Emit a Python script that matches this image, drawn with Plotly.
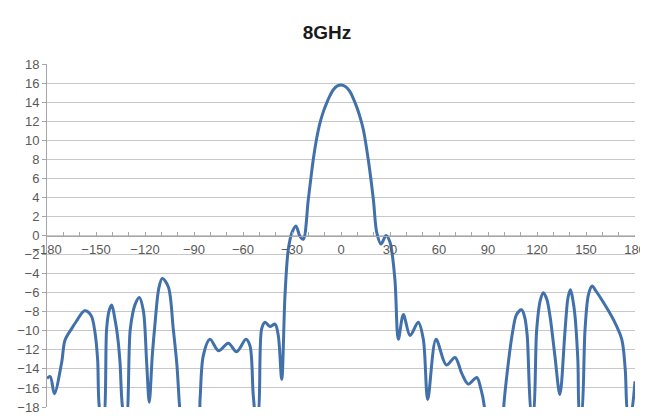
import plotly.graph_objects as go

angle_deg = [-180, -178, -175.5, -171, -169, -165, -162, -157, -153, -150.5, -149, -147.5,
             -145.5, -143.5, -142, -140.4, -138.4, -136.5, -135.3, -133.3,
             -131.5, -129, -126, -123.5, -121, -119, -117.4,
             -115.5, -114, -111.5, -109.4, -105.7, -102.7, -100.5, -98.6,
             -97, -88, -86.3, -84.3, -80.2, -75, -69, -63.9, -58.2, -55.7, -53.7, -52,
             -51, -48.6, -46.5, -43.5, -40.4, -38.4, -36.3, -34.3, -32.3, -30, -27.6, -25.1, -23.1,
             -20, -17, -15, -12.9, -10.8, -8.8, -6.7, -4.7, -2.2, 0.4, 3, 5.5, 7.5, 9.6, 11.7, 13.7,
             16.7, 19.8, 21.9, 24.5, 27.6, 30,
             33, 35.1, 38.2, 42.3, 47.3, 50.4, 53.1, 58.2, 64.5, 69.8, 74, 78, 83.1, 85.5, 88.2,
             89, 99, 99.4, 102, 105, 107.5, 110.6, 112.5, 114, 116.8,
             117.5, 119.8, 122, 123.9, 126, 128, 131, 134,
             137.2, 139, 140.5, 142, 143.3, 145, 146.3,
             147, 149.4, 151.5, 153.8, 156, 160.6, 166.7, 171.9, 174, 175.9, 177, 180]
gain_db = [-15.0, -14.8, -16.6, -13.3, -11.0, -9.8, -9.0, -7.9, -8.4, -10.3, -13.0, -18.5,
           -19, -9.8, -7.9, -7.3, -8.8, -11.0, -13.3, -18.5,
           -19, -9.8, -7.2, -6.5, -7.9, -13.3, -17.5,
           -12.5, -9.5, -5.5, -4.5, -5.4, -9.8, -13.5, -18.5,
           -21, -21, -17.2, -12.6, -10.9, -12.1, -11.3, -12.2, -10.9, -11.6, -16.8, -19,
           -19, -9.8, -9.1, -9.55, -9.3, -10.5, -15.1, -6.3, -1.5, 0.3, 1.0, -0.1, -0.4,
           3.8, 7.95, 10.1, 11.8, 13.0, 13.9, 14.7, 15.3, 15.7, 15.8, 15.6, 15.1, 14.4, 13.5, 12.4, 11.1,
           7.95, 3.8, 0.3, -0.9, 0.0, -0.7,
           -4.6, -10.9, -8.3, -10.5, -9.1, -10.9, -17.2, -10.9, -13.6, -12.8, -14.5, -15.6, -14.9, -16.0, -18.5,
           -21, -21, -18.5, -14.0, -10.2, -8.3, -7.8, -8.6, -10.5, -19,
           -19, -9.9, -6.8, -6.0, -6.7, -8.5, -12.7, -16.7,
           -9.9, -6.5, -5.7, -6.8, -8.5, -13.0, -19,
           -19, -9.9, -6.2, -5.3, -5.8, -7.0, -8.8, -10.9, -14.0, -19, -19, -15.3]

x_ticks = [-180, -150, -120, -90, -60, -30, 0, 30, 60, 90, 120, 150, 180]
y_ticks = list(range(-18, 19, 2))
title_text = "8GHz"

fig = go.Figure()
fig.add_trace(go.Scatter(x=angle_deg, y=gain_db, mode="lines",
                         line=dict(color="#4170AA", width=3, shape="spline", smoothing=0.9),
                         hoverinfo="skip"))

# page body has an 8px margin; size figure so it fills the 648x419 window
W, H = 640, 411
ml, mr, mt, mb = 39, 13, 56, 12
pw, ph = W - ml - mr, H - mt - mb

fig.update_layout(
    width=W, height=H,
    margin=dict(l=ml, r=mr, t=mt, b=mb, autoexpand=False),
    paper_bgcolor="white", plot_bgcolor="white",
    showlegend=False,
    font=dict(family="Liberation Sans, Arial, sans-serif", size=13, color="#595959"),
    title=dict(text="<b>" + title_text + "</b>", x=(319 - ml) / pw, xref="paper",
               xanchor="center", y=1 - 24 / H, yref="container", yanchor="middle",
               font=dict(size=19, color="#1a1a1a", family="Liberation Sans, Arial, sans-serif")),
    xaxis=dict(range=[-180, 180], tickvals=x_ticks, showgrid=False, zeroline=False,
               anchor="free", position=0.5, showline=True, linecolor="#a6a6a6", linewidth=1,
               ticks="inside", ticklen=4, tickcolor="#a6a6a6", automargin=False,
               minor=dict(dtick=10, tick0=0, ticks="inside", ticklen=4, tickcolor="#a6a6a6", showgrid=False),
               ticklabelstandoff=2,
               tickfont=dict(size=13, color="#595959")),
    yaxis=dict(range=[-18, 18], tickvals=y_ticks, showgrid=True, gridcolor="#c8c8c8", gridwidth=1,
               zeroline=False, showline=True, linecolor="#a6a6a6", linewidth=1, automargin=False,
               ticks="outside", ticklen=4, tickcolor="#a6a6a6",
               tickfont=dict(size=13, color="#595959")),
)

fig.write_html("out.html")
